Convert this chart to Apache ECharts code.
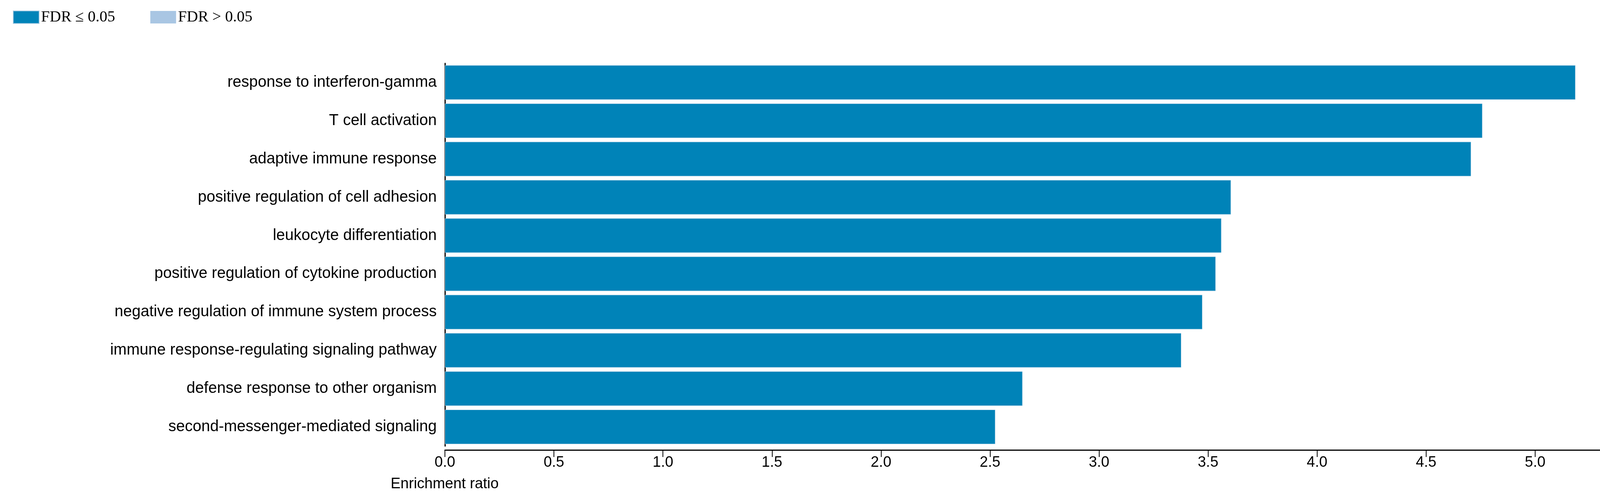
<!DOCTYPE html>
<html><head><meta charset="utf-8">
<script src="https://cdn.jsdelivr.net/npm/echarts@6/dist/echarts.min.js"></script>
<style>html,body{margin:0;padding:0;background:#fff}#c{width:4257px;height:1279px}</style>
</head><body><div id="c"></div>
<script>
const categories = ["response to interferon-gamma","T cell activation","adaptive immune response","positive regulation of cell adhesion","leukocyte differentiation","positive regulation of cytokine production","negative regulation of immune system process","immune response-regulating signaling pathway","defense response to other organism","second-messenger-mediated signaling"];
const enrichment = [5.185,4.758,4.706,3.605,3.561,3.535,3.474,3.377,2.649,2.524];
const xTicks = [0,0.5,1,1.5,2,2.5,3,3.5,4,4.5,5,5.5];
const legendNames = ["FDR ≤ 0.05","FDR > 0.05"];
const chart = echarts.init(document.getElementById('c'));
chart.setOption({
  animation:false,
  legend:{left:28,top:19,itemWidth:66,itemHeight:32,itemGap:90,icon:'rect',
    textStyle:{fontFamily:'Liberation Serif',fontSize:40,color:'#000'},data:legendNames},
  grid:{left:1139,right:48,top:162,bottom:138},
  xAxis:{type:'value',min:0,max:5.5,interval:0.5,offset:10,
    axisLine:{show:true,lineStyle:{color:'#000',width:3}},
    axisTick:{show:true,length:18,lineStyle:{color:'#000',width:2}},
    splitLine:{show:false},
    axisLabel:{fontFamily:'Liberation Sans',fontSize:38,color:'#000',margin:14,
      showMaxLabel:true,showMinLabel:true,hideOverlap:false,
      formatter:v=>v.toFixed(1)}},
  yAxis:{type:'category',inverse:true,data:categories,
    axisLine:{show:true,lineStyle:{color:'#000',width:3}},axisTick:{show:false},
    axisLabel:{fontFamily:'Liberation Sans',fontSize:40,color:'#000',margin:21}},
  series:[
    {name:legendNames[0],type:'bar',data:enrichment,barCategoryGap:'10%',barGap:'-100%',
      itemStyle:{color:'#0083b8',borderColor:'#9cc6e0',borderWidth:1}},
    {name:legendNames[1],type:'bar',data:[],barGap:'-100%',itemStyle:{color:'#a9c6e3'}}
  ],
  graphic:[{type:'text',left:1000,top:1220,style:{text:'Enrichment ratio',
    font:'38px "Liberation Sans"',fill:'#000'}}]
});
</script></body></html>
